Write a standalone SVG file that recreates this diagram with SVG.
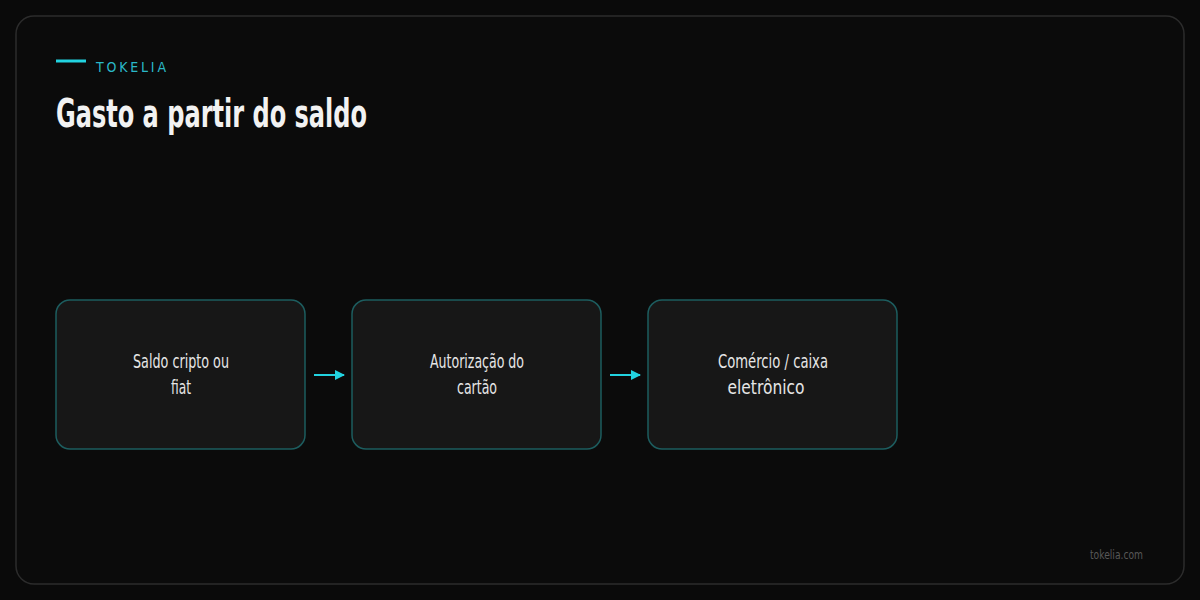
<svg xmlns="http://www.w3.org/2000/svg" width="1200" height="600" viewBox="0 0 1200 600">
<style>
.bg{fill:#0a0a0a}
.frame{fill:#0b0b0b;stroke:#2c2c2c;stroke-width:1.5}
.node{fill:#171717;stroke:#1d5d5f;stroke-width:1.5}
.lbl{font-family:"DejaVu Sans Condensed","Liberation Sans",sans-serif;font-size:20px;fill:#e6e6e6;text-anchor:middle}
.title{font-family:"DejaVu Sans Condensed","Liberation Sans",sans-serif;font-size:39px;font-weight:bold;fill:#f2f2f2}
.brand{font-family:"DejaVu Sans Condensed","Liberation Sans",sans-serif;font-size:14px;fill:#2ab8c8}
.foot{font-family:"DejaVu Sans Condensed","Liberation Sans",sans-serif;font-size:13px;fill:#585858}
.conn{stroke:#22d3e0;stroke-width:2;fill:none;marker-end:url(#ah)}
</style>
<defs>
<marker id="ah" markerWidth="10" markerHeight="10" refX="9" refY="5" orient="auto" markerUnits="userSpaceOnUse">
<path d="M0,0 L10,5 L0,10 Z" fill="#22d3e0"/>
</marker>
</defs>
<rect class="bg" x="0" y="0" width="1200" height="600"/>
<rect class="frame" x="16" y="16" width="1168" height="568" rx="18"/>
<line x1="56" y1="61" x2="86" y2="61" stroke="#22d3e0" stroke-width="3"/>
<text class="brand" x="96" y="72" textLength="70" lengthAdjust="spacing">TOKELIA</text>
<text class="title" x="56" y="127" textLength="311" lengthAdjust="spacingAndGlyphs">Gasto a partir do saldo</text>
<g id="connectors">
<line class="conn" x1="314" y1="375" x2="344" y2="375"/>
<line class="conn" x1="610" y1="375" x2="640" y2="375"/>
</g>
<g id="n1">
<rect class="node" x="56" y="300" width="249" height="149" rx="14"/>
<text class="lbl" x="181" y="368" textLength="96" lengthAdjust="spacingAndGlyphs">Saldo cripto ou</text>
<text class="lbl" x="181" y="394" textLength="20" lengthAdjust="spacingAndGlyphs">fiat</text>
</g>
<g id="n2">
<rect class="node" x="352" y="300" width="249" height="149" rx="14"/>
<text class="lbl" x="477" y="368" textLength="94" lengthAdjust="spacingAndGlyphs">Autorização do</text>
<text class="lbl" x="477" y="394" textLength="40" lengthAdjust="spacingAndGlyphs">cartão</text>
</g>
<g id="n3">
<rect class="node" x="648" y="300" width="249" height="149" rx="14"/>
<text class="lbl" x="773" y="368" textLength="110" lengthAdjust="spacingAndGlyphs">Comércio / caixa</text>
<text class="lbl" x="766" y="394" textLength="77" lengthAdjust="spacingAndGlyphs">eletrônico</text>
</g>
<text class="foot" x="1090" y="559" textLength="53" lengthAdjust="spacingAndGlyphs">tokelia.com</text>
</svg>
